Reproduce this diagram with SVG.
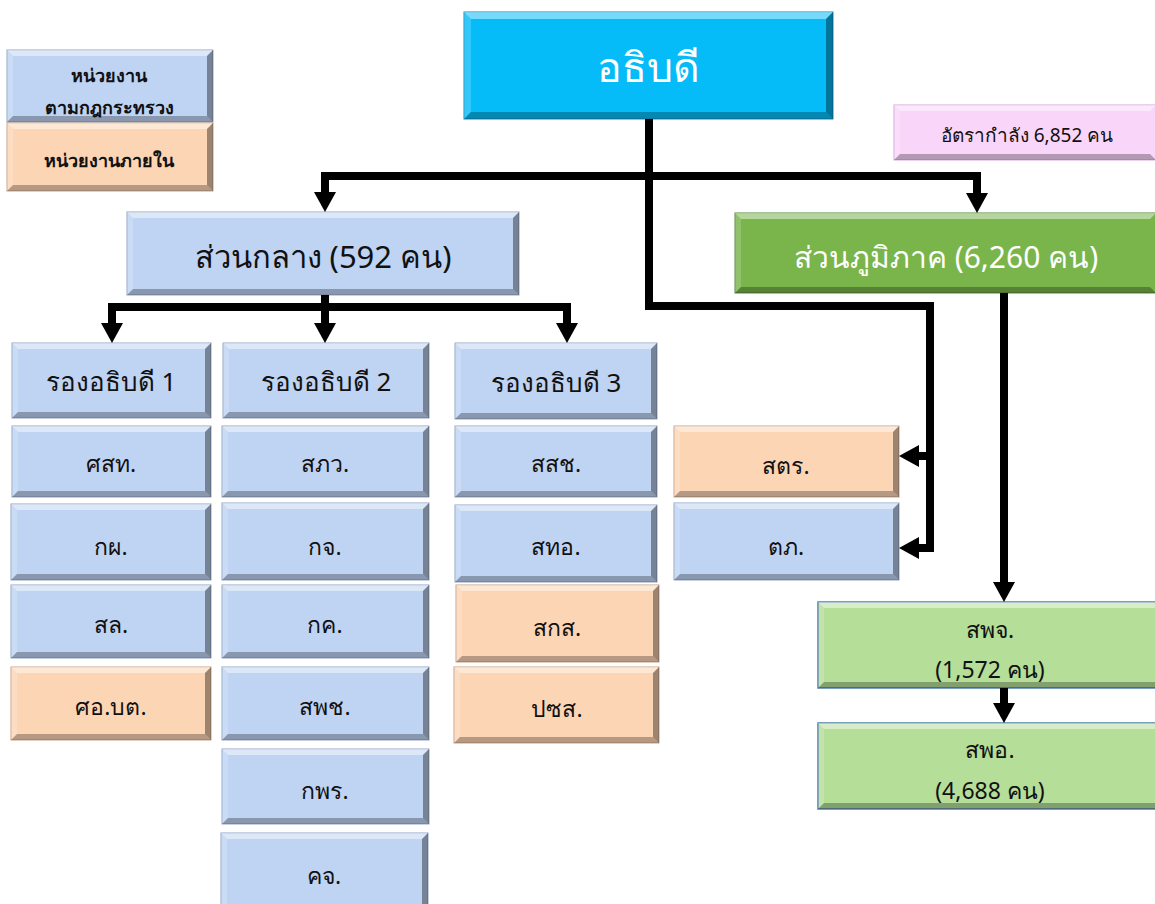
<svg xmlns="http://www.w3.org/2000/svg" width="1155" height="904" viewBox="0 0 1155 904">
<defs>
<style>
text{font-family:Tahoma,"Noto Sans","DejaVu Sans",sans-serif;text-anchor:middle;dominant-baseline:central;fill:#111}
.blue{fill:#BFD3F3;stroke:#8FA3C4;stroke-width:1}
.orange{fill:#FCD5B5;stroke:#C9A283;stroke-width:1}
.cyan{fill:#05BCF8;stroke:#0A8FBF;stroke-width:1}
.green{fill:#79B54B;stroke:#55853A;stroke-width:1}
.lgreen{fill:#B5DE98;stroke:#4F7FAF;stroke-width:1.5}
.pink{fill:#FAD5FA;stroke:#D6A8D6;stroke-width:1}
.hl{fill:#fff;fill-opacity:.45}
.hl2{fill:#fff;fill-opacity:.18}
.sh{fill:#000;fill-opacity:.28}
.sh2{fill:#000;fill-opacity:.38}
.w{fill:#fff}
.t18b{font-size:18px;font-weight:bold}
.t19{font-size:19px}
.t23{font-size:23px}
.t26{font-size:26px}
.t31{font-size:31px}
.t30{font-size:30px}
.t41{font-size:41px}
.conn path{fill:none;stroke:#000;stroke-width:8;stroke-linejoin:miter;stroke-linecap:butt}
</style>
<marker id="ah" markerUnits="userSpaceOnUse" markerWidth="20" markerHeight="22" viewBox="0 0 20 22" refX="0" refY="11" orient="auto-start-reverse">
<path d="M0,0 L20,11 L0,22 Z" fill="#000"/>
</marker>
</defs>
<rect width="1155" height="904" fill="#fff"/>

<g id="legend-law">
<rect class="blue" x="7" y="50" width="206" height="72"/>
<path class="hl" d="M7,50 H213 L207,56 H13 Z"/><path class="hl2" d="M7,50 L13,56 V116 L7,122 Z"/>
<path class="sh" d="M7,122 L13,116 H207 L213,122 Z"/><path class="sh2" d="M213,50 V122 L207,116 V56 Z"/>
<text class="t18b" x="109" y="75">หน่วยงาน</text>
<text class="t18b" x="109" y="107">ตามกฎกระทรวง</text>
</g>
<g id="legend-internal">
<rect class="orange" x="7" y="123" width="206" height="68"/>
<path class="hl" d="M7,123 H213 L207,129 H13 Z"/><path class="hl2" d="M7,123 L13,129 V185 L7,191 Z"/>
<path class="sh" d="M7,191 L13,185 H207 L213,191 Z"/><path class="sh2" d="M213,123 V191 L207,185 V129 Z"/>
<text class="t18b" x="109" y="160">หน่วยงานภายใน</text>
</g>

<g id="director">
<rect class="cyan" x="464" y="12" width="369" height="107"/>
<path class="hl" d="M464,12 H833 L826,19 H471 Z"/><path class="hl2" d="M464,12 L471,19 V112 L464,119 Z"/>
<path class="sh" d="M464,119 L471,112 H826 L833,119 Z"/><path class="sh2" d="M833,12 V119 L826,112 V19 Z"/>
<text class="t41 w" x="648" y="66">อธิบดี</text>
</g>

<g id="headcount">
<rect class="pink" x="894" y="105" width="262" height="55"/>
<path class="hl" d="M894,105 H1156 L1150,111 H900 Z"/><path class="hl2" d="M894,105 L900,111 V154 L894,160 Z"/>
<path class="sh" d="M894,160 L900,154 H1150 L1156,160 Z"/>
<text class="t19" x="1027" y="135">อัตรากำลัง 6,852 คน</text>
</g>

<g id="central">
<rect class="blue" x="127" y="212" width="392" height="83"/>
<path class="hl" d="M127,212 H519 L513,218 H133 Z"/><path class="hl2" d="M127,212 L133,218 V289 L127,295 Z"/>
<path class="sh" d="M127,295 L133,289 H513 L519,295 Z"/><path class="sh2" d="M519,212 V295 L513,289 V218 Z"/>
<text class="t31" x="323" y="256">ส่วนกลาง (592 คน)</text>
</g>

<g id="regional">
<rect class="green" x="735" y="213" width="421" height="80"/>
<path class="hl" d="M735,213 H1156 L1150,219 H741 Z"/><path class="hl2" d="M735,213 L741,219 V287 L735,293 Z"/>
<path class="sh" d="M735,293 L741,287 H1150 L1156,293 Z"/>
<text class="t30 w" x="946" y="256">ส่วนภูมิภาค (6,260 คน)</text>
</g>

<g id="deputy1">
<rect class="blue" x="12" y="343" width="199" height="75"/>
<path class="hl" d="M12,343 H211 L205,349 H18 Z"/><path class="hl2" d="M12,343 L18,349 V412 L12,418 Z"/>
<path class="sh" d="M12,418 L18,412 H205 L211,418 Z"/><path class="sh2" d="M211,343 V418 L205,412 V349 Z"/>
<text class="t26" x="111" y="381">รองอธิบดี 1</text>
</g>
<g id="deputy2">
<rect class="blue" x="223" y="343" width="206" height="75"/>
<path class="hl" d="M223,343 H429 L423,349 H229 Z"/><path class="hl2" d="M223,343 L229,349 V412 L223,418 Z"/>
<path class="sh" d="M223,418 L229,412 H423 L429,418 Z"/><path class="sh2" d="M429,343 V418 L423,412 V349 Z"/>
<text class="t26" x="326" y="381">รองอธิบดี 2</text>
</g>
<g id="deputy3">
<rect class="blue" x="455" y="343" width="202" height="76"/>
<path class="hl" d="M455,343 H657 L651,349 H461 Z"/><path class="hl2" d="M455,343 L461,349 V413 L455,419 Z"/>
<path class="sh" d="M455,419 L461,413 H651 L657,419 Z"/><path class="sh2" d="M657,343 V419 L651,413 V349 Z"/>
<text class="t26" x="556" y="382">รองอธิบดี 3</text>
</g>

<g id="n-sst">
<rect class="blue" x="12" y="426" width="199" height="71"/>
<path class="hl" d="M12,426 H211 L205,432 H18 Z"/><path class="hl2" d="M12,426 L18,432 V491 L12,497 Z"/>
<path class="sh" d="M12,497 L18,491 H205 L211,497 Z"/><path class="sh2" d="M211,426 V497 L205,491 V432 Z"/>
<text class="t23" x="111" y="463">ศสท.</text>
</g>
<g id="n-kp">
<rect class="blue" x="11" y="504" width="200" height="76"/>
<path class="hl" d="M11,504 H211 L205,510 H17 Z"/><path class="hl2" d="M11,504 L17,510 V574 L11,580 Z"/>
<path class="sh" d="M11,580 L17,574 H205 L211,580 Z"/><path class="sh2" d="M211,504 V580 L205,574 V510 Z"/>
<text class="t23" x="111" y="546">กผ.</text>
</g>
<g id="n-sl">
<rect class="blue" x="11" y="585" width="200" height="73"/>
<path class="hl" d="M11,585 H211 L205,591 H17 Z"/><path class="hl2" d="M11,585 L17,591 V652 L11,658 Z"/>
<path class="sh" d="M11,658 L17,652 H205 L211,658 Z"/><path class="sh2" d="M211,585 V658 L205,652 V591 Z"/>
<text class="t23" x="111" y="624">สล.</text>
</g>
<g id="n-sobt">
<rect class="orange" x="11" y="667" width="200" height="73"/>
<path class="hl" d="M11,667 H211 L205,673 H17 Z"/><path class="hl2" d="M11,667 L17,673 V734 L11,740 Z"/>
<path class="sh" d="M11,740 L17,734 H205 L211,740 Z"/><path class="sh2" d="M211,667 V740 L205,734 V673 Z"/>
<text class="t23" x="111" y="706">ศอ.บต.</text>
</g>

<g id="n-spw">
<rect class="blue" x="222" y="426" width="207" height="71"/>
<path class="hl" d="M222,426 H429 L423,432 H228 Z"/><path class="hl2" d="M222,426 L228,432 V491 L222,497 Z"/>
<path class="sh" d="M222,497 L228,491 H423 L429,497 Z"/><path class="sh2" d="M429,426 V497 L423,491 V432 Z"/>
<text class="t23" x="325" y="463">สภว.</text>
</g>
<g id="n-kj">
<rect class="blue" x="222" y="503" width="207" height="77"/>
<path class="hl" d="M222,503 H429 L423,509 H228 Z"/><path class="hl2" d="M222,503 L228,509 V574 L222,580 Z"/>
<path class="sh" d="M222,580 L228,574 H423 L429,580 Z"/><path class="sh2" d="M429,503 V580 L423,574 V509 Z"/>
<text class="t23" x="325" y="546">กจ.</text>
</g>
<g id="n-kk">
<rect class="blue" x="222" y="585" width="207" height="73"/>
<path class="hl" d="M222,585 H429 L423,591 H228 Z"/><path class="hl2" d="M222,585 L228,591 V652 L222,658 Z"/>
<path class="sh" d="M222,658 L228,652 H423 L429,658 Z"/><path class="sh2" d="M429,585 V658 L423,652 V591 Z"/>
<text class="t23" x="325" y="624">กค.</text>
</g>
<g id="n-spch">
<rect class="blue" x="222" y="667" width="207" height="73"/>
<path class="hl" d="M222,667 H429 L423,673 H228 Z"/><path class="hl2" d="M222,667 L228,673 V734 L222,740 Z"/>
<path class="sh" d="M222,740 L228,734 H423 L429,740 Z"/><path class="sh2" d="M429,667 V740 L423,734 V673 Z"/>
<text class="t23" x="325" y="706">สพช.</text>
</g>
<g id="n-kpr">
<rect class="blue" x="222" y="749" width="207" height="75"/>
<path class="hl" d="M222,749 H429 L423,755 H228 Z"/><path class="hl2" d="M222,749 L228,755 V818 L222,824 Z"/>
<path class="sh" d="M222,824 L228,818 H423 L429,824 Z"/><path class="sh2" d="M429,749 V824 L423,818 V755 Z"/>
<text class="t23" x="325" y="790">กพร.</text>
</g>
<g id="n-kj2">
<rect class="blue" x="221" y="833" width="207" height="80"/>
<path class="hl" d="M221,833 H428 L422,839 H227 Z"/><path class="hl2" d="M221,833 L227,839 V913 H221 Z"/>
<path class="sh2" d="M428,833 V913 H422 V839 Z"/>
<text class="t23" x="324" y="875">คจ.</text>
</g>

<g id="n-ssch">
<rect class="blue" x="455" y="426" width="202" height="71"/>
<path class="hl" d="M455,426 H657 L651,432 H461 Z"/><path class="hl2" d="M455,426 L461,432 V491 L455,497 Z"/>
<path class="sh" d="M455,497 L461,491 H651 L657,497 Z"/><path class="sh2" d="M657,426 V497 L651,491 V432 Z"/>
<text class="t23" x="556" y="463">สสช.</text>
</g>
<g id="n-sto">
<rect class="blue" x="455" y="505" width="202" height="77"/>
<path class="hl" d="M455,505 H657 L651,511 H461 Z"/><path class="hl2" d="M455,505 L461,511 V576 L455,582 Z"/>
<path class="sh" d="M455,582 L461,576 H651 L657,582 Z"/><path class="sh2" d="M657,505 V582 L651,576 V511 Z"/>
<text class="t23" x="556" y="546">สทอ.</text>
</g>
<g id="n-skso">
<rect class="orange" x="456" y="585" width="203" height="77"/>
<path class="hl" d="M456,585 H659 L653,591 H462 Z"/><path class="hl2" d="M456,585 L462,591 V656 L456,662 Z"/>
<path class="sh" d="M456,662 L462,656 H653 L659,662 Z"/><path class="sh2" d="M659,585 V662 L653,656 V591 Z"/>
<text class="t23" x="557" y="627">สกส.</text>
</g>
<g id="n-pss">
<rect class="orange" x="454" y="667" width="205" height="76"/>
<path class="hl" d="M454,667 H659 L653,673 H460 Z"/><path class="hl2" d="M454,667 L460,673 V737 L454,743 Z"/>
<path class="sh" d="M454,743 L460,737 H653 L659,743 Z"/><path class="sh2" d="M659,667 V743 L653,737 V673 Z"/>
<text class="t23" x="557" y="708">ปซส.</text>
</g>

<g id="n-str">
<rect class="orange" x="674" y="426" width="225" height="71"/>
<path class="hl" d="M674,426 H899 L893,432 H680 Z"/><path class="hl2" d="M674,426 L680,432 V491 L674,497 Z"/>
<path class="sh" d="M674,497 L680,491 H893 L899,497 Z"/><path class="sh2" d="M899,426 V497 L893,491 V432 Z"/>
<text class="t23" x="786" y="465">สตร.</text>
</g>
<g id="n-tp">
<rect class="blue" x="674" y="503" width="225" height="77"/>
<path class="hl" d="M674,503 H899 L893,509 H680 Z"/><path class="hl2" d="M674,503 L680,509 V574 L674,580 Z"/>
<path class="sh" d="M674,580 L680,574 H893 L899,580 Z"/><path class="sh2" d="M899,503 V580 L893,574 V509 Z"/>
<text class="t23" x="786" y="546">ตภ.</text>
</g>

<g id="n-spj">
<rect class="lgreen" x="818" y="602" width="344" height="86"/>
<path class="hl" d="M818,602 H1162 L1156,608 H824 Z"/><path class="hl2" d="M818,602 L824,608 V682 L818,688 Z"/>
<path class="sh" d="M818,688 L824,682 H1156 L1162,688 Z"/>
<text class="t23" x="990" y="629">สพจ.</text>
<text class="t23" x="990" y="669">(1,572 คน)</text>
</g>
<g id="n-spo">
<rect class="lgreen" x="818" y="723" width="344" height="86"/>
<path class="hl" d="M818,723 H1162 L1156,729 H824 Z"/><path class="hl2" d="M818,723 L824,729 V803 L818,809 Z"/>
<path class="sh" d="M818,809 L824,803 H1156 L1162,809 Z"/>
<text class="t23" x="990" y="749">สพอ.</text>
<text class="t23" x="990" y="790">(4,688 คน)</text>
</g>

<g class="conn" id="connectors">
<path d="M649,119 V306 H930 V552"/>
<path d="M325,192 V176 H977 V193" marker-start="url(#ah)" marker-end="url(#ah)"/>
<path d="M325,295 V323" marker-end="url(#ah)"/>
<path d="M112,323 V307 H567 V323" marker-start="url(#ah)" marker-end="url(#ah)"/>
<path d="M934,456 H919" marker-end="url(#ah)"/>
<path d="M934,548 H919" marker-end="url(#ah)"/>
<path d="M1004,293 V582" marker-end="url(#ah)"/>
<path d="M1004,688 V703" marker-end="url(#ah)"/>
</g>
</svg>
